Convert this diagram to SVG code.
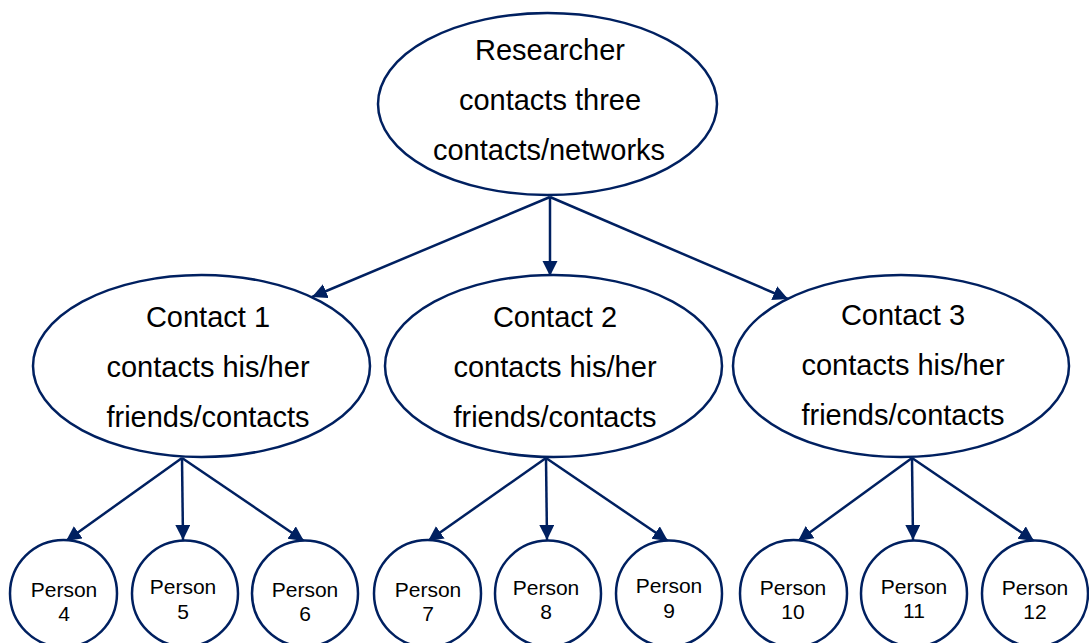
<svg xmlns="http://www.w3.org/2000/svg" width="1089" height="643" viewBox="0 0 1089 643">
<style>
.node{fill:#ffffff;stroke:#002060;stroke-width:2.5}
.big{font-family:"Liberation Sans",Arial,sans-serif;font-size:29px;fill:#000;text-anchor:middle}
.small{font-family:"Liberation Sans",Arial,sans-serif;font-size:21px;fill:#000;text-anchor:middle}
.edge{stroke:#002060;stroke-width:2.5;fill:none;marker-end:url(#arr)}
</style>
<defs>
<marker id="arr" markerUnits="userSpaceOnUse" markerWidth="16" markerHeight="16" refX="15" refY="7.5" orient="auto">
<path d="M0,0 L15,7.5 L0,15 z" fill="#002060"/>
</marker>
</defs>
<rect width="1089" height="643" fill="#ffffff"/>
<g id="connectors">
<line class="edge" x1="550" y1="197" x2="312" y2="297"/>
<line class="edge" x1="550" y1="197" x2="550" y2="276"/>
<line class="edge" x1="550" y1="197" x2="788" y2="299"/>
<line class="edge" x1="182" y1="458" x2="66" y2="541"/>
<line class="edge" x1="182" y1="458" x2="183" y2="540"/>
<line class="edge" x1="182" y1="458" x2="304" y2="541"/>
<line class="edge" x1="546" y1="458" x2="428" y2="541"/>
<line class="edge" x1="546" y1="458" x2="547" y2="540"/>
<line class="edge" x1="546" y1="458" x2="668" y2="541"/>
<line class="edge" x1="912" y1="458" x2="798" y2="541"/>
<line class="edge" x1="912" y1="458" x2="913" y2="540"/>
<line class="edge" x1="912" y1="458" x2="1034" y2="541"/>
</g>
<g id="researcher">
<ellipse class="node" cx="547.5" cy="104" rx="169.5" ry="91"/>
<text class="big" x="550" y="60">Researcher</text>
<text class="big" x="550" y="110">contacts three</text>
<text class="big" x="549" y="160">contacts/networks</text>
</g>
<g id="contact1">
<ellipse class="node" cx="201.5" cy="366" rx="168.5" ry="91"/>
<text class="big" x="208" y="327">Contact 1</text>
<text class="big" x="208" y="377">contacts his/her</text>
<text class="big" x="208" y="427">friends/contacts</text>
</g>
<g id="contact2">
<ellipse class="node" cx="553.5" cy="366" rx="168.5" ry="91"/>
<text class="big" x="555" y="327">Contact 2</text>
<text class="big" x="555" y="377">contacts his/her</text>
<text class="big" x="555" y="427">friends/contacts</text>
</g>
<g id="contact3">
<ellipse class="node" cx="901" cy="366" rx="168" ry="91"/>
<text class="big" x="903" y="325">Contact 3</text>
<text class="big" x="903" y="375">contacts his/her</text>
<text class="big" x="903" y="425">friends/contacts</text>
</g>
<g id="person4"><circle class="node" cx="63.5" cy="593.5" r="53.5"/><text class="small" x="64" y="597">Person</text><text class="small" x="64" y="621">4</text></g>
<g id="person5"><circle class="node" cx="185" cy="593.5" r="53"/><text class="small" x="183" y="594">Person</text><text class="small" x="183" y="619">5</text></g>
<g id="person6"><circle class="node" cx="305" cy="593.5" r="53"/><text class="small" x="305" y="597">Person</text><text class="small" x="305" y="621">6</text></g>
<g id="person7"><circle class="node" cx="427.5" cy="593.5" r="53.5"/><text class="small" x="428" y="597">Person</text><text class="small" x="428" y="621">7</text></g>
<g id="person8"><circle class="node" cx="548" cy="593.5" r="53"/><text class="small" x="546" y="595">Person</text><text class="small" x="546" y="619">8</text></g>
<g id="person9"><circle class="node" cx="669" cy="593.5" r="53"/><text class="small" x="669" y="593">Person</text><text class="small" x="669" y="618">9</text></g>
<g id="person10"><circle class="node" cx="793.5" cy="593.5" r="53.5"/><text class="small" x="793" y="595">Person</text><text class="small" x="793" y="619">10</text></g>
<g id="person11"><circle class="node" cx="914" cy="593.5" r="53"/><text class="small" x="914" y="594">Person</text><text class="small" x="914" y="618">11</text></g>
<g id="person12"><circle class="node" cx="1035" cy="593.5" r="53"/><text class="small" x="1035" y="595">Person</text><text class="small" x="1035" y="619">12</text></g>
</svg>
